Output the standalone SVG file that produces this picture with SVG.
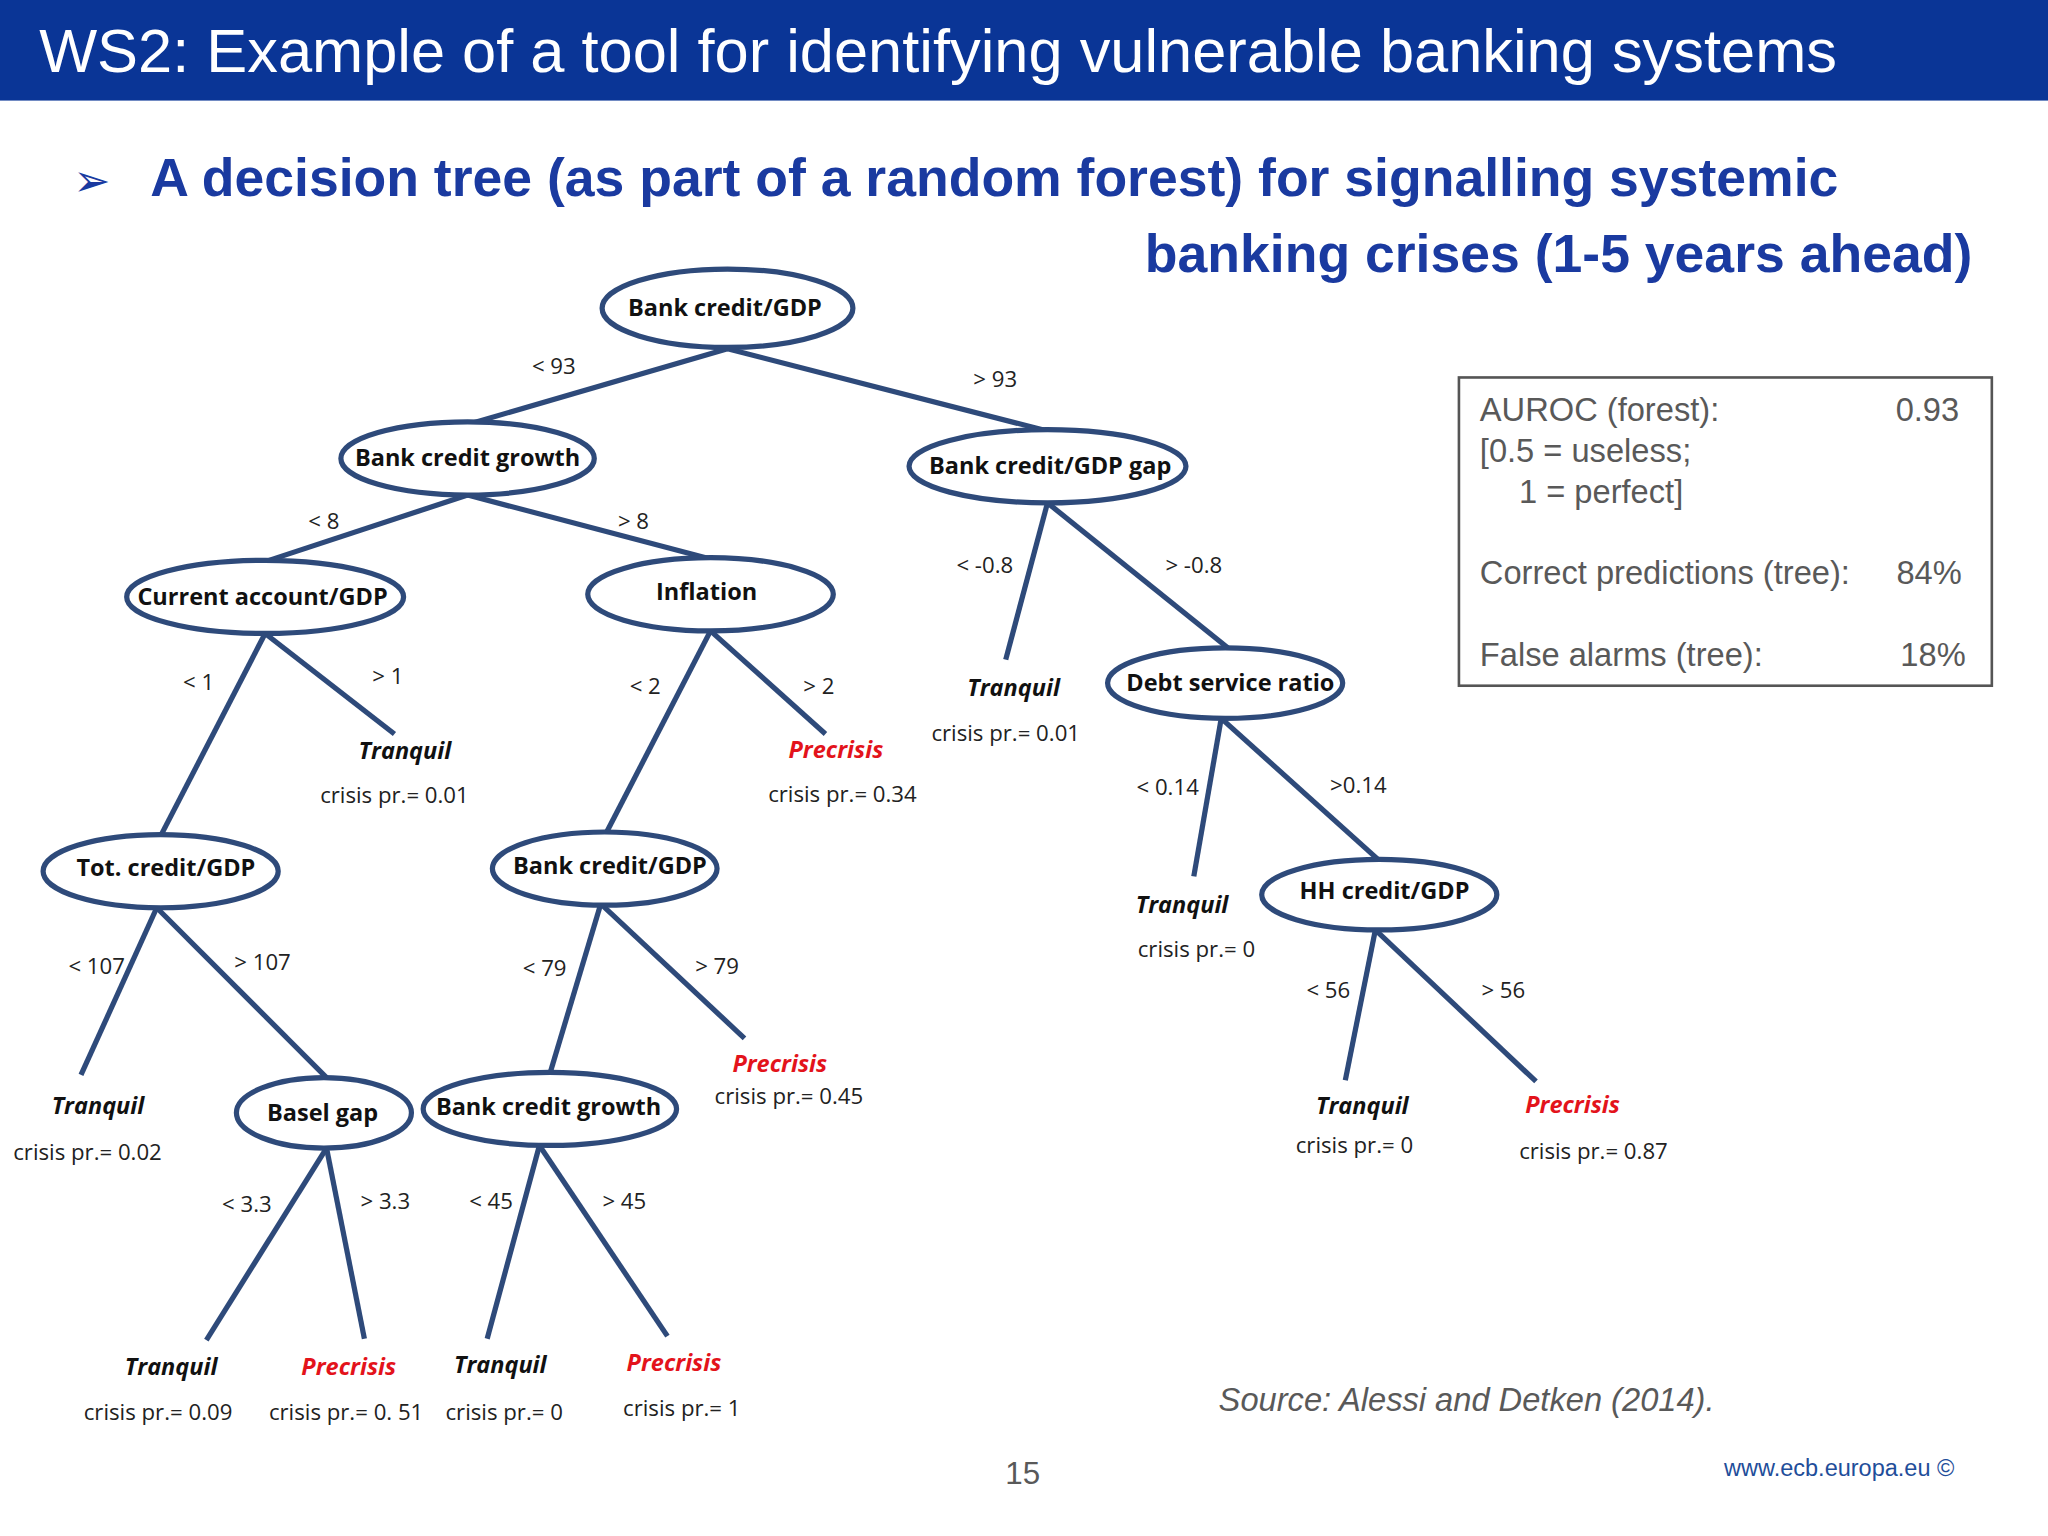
<svg xmlns="http://www.w3.org/2000/svg" width="2048" height="1536" viewBox="0 0 2048 1536">
<style>
.n{fill:#fff;stroke:#2e4a7a;stroke-width:4}
.e line{stroke:#2e4a7a;stroke-width:4}
.nt{font-family:"Open Sans","Noto Sans",sans-serif;font-weight:bold;font-size:18px;fill:#111;text-anchor:middle}
.l{font-family:"Open Sans","Noto Sans",sans-serif;font-size:17px;fill:#222;text-anchor:middle}
.tq{font-family:"Open Sans","Noto Sans",sans-serif;font-weight:bold;font-style:italic;font-size:18px;fill:#111;text-anchor:middle}
.pc{font-family:"Open Sans","Noto Sans",sans-serif;font-weight:bold;font-style:italic;font-size:18px;fill:#e3131b;text-anchor:middle}
.b{font-family:"Liberation Sans",Arial,sans-serif;font-size:25px;fill:#595959}
</style>
<rect width="2048" height="1536" fill="#fff"/>
<g transform="scale(1.30612)">
<rect x="0" y="0" width="1568" height="77" fill="#0a3596"/>
<text x="30" y="55" font-family="Liberation Sans,Arial,sans-serif" font-size="47" fill="#fff">WS2: Example of a tool for identifying vulnerable banking systems</text>
<text x="56" y="150" font-family="DejaVu Sans,sans-serif" font-size="34" fill="#1a3aa0">➢</text>
<g font-family="Liberation Sans,Arial,sans-serif" font-weight="bold" font-size="41" fill="#1a3aa0">
<text x="115" y="150">A decision tree (as part of a random forest) for signalling systemic</text>
<text x="1510" y="208" text-anchor="end">banking crises (1-5 years ahead)</text>
</g>
<g id="connectors" class="e">
<line x1="557" y1="267" x2="358" y2="325"/><line x1="557" y1="267" x2="802" y2="330"/>
<line x1="358" y1="379" x2="203" y2="430"/><line x1="358" y1="379" x2="544" y2="428"/>
<line x1="802" y1="385" x2="770" y2="505"/><line x1="802" y1="385" x2="940" y2="496"/>
<line x1="203" y1="485" x2="123" y2="640"/><line x1="203" y1="485" x2="302" y2="562"/>
<line x1="544" y1="483" x2="464" y2="638"/><line x1="544" y1="483" x2="632" y2="562"/>
<line x1="935" y1="550" x2="914" y2="671"/><line x1="935" y1="550" x2="1055" y2="658"/>
<line x1="120" y1="695" x2="62" y2="823"/><line x1="120" y1="695" x2="250" y2="825"/>
<line x1="460" y1="692" x2="421" y2="822"/><line x1="460" y1="692" x2="570" y2="795"/>
<line x1="1053" y1="712" x2="1030" y2="827"/><line x1="1053" y1="712" x2="1176" y2="828"/>
<line x1="250" y1="879" x2="158" y2="1026"/><line x1="250" y1="879" x2="279" y2="1025"/>
<line x1="413" y1="877" x2="373" y2="1025"/><line x1="413" y1="877" x2="511" y2="1023"/>
</g>
<g id="n1"><ellipse class="n" cx="557" cy="236" rx="96" ry="30"/><text class="nt" x="555" y="242">Bank credit/GDP</text></g>
<g id="n2"><ellipse class="n" cx="358" cy="351" rx="97" ry="28"/><text class="nt" x="358" y="357">Bank credit growth</text></g>
<g id="n3"><ellipse class="n" cx="802" cy="357" rx="106" ry="28"/><text class="nt" x="804" y="363">Bank credit/GDP gap</text></g>
<g id="n4"><ellipse class="n" cx="203" cy="457" rx="106" ry="28"/><text class="nt" x="201" y="463">Current account/GDP</text></g>
<g id="n5"><ellipse class="n" cx="544" cy="455" rx="94" ry="28"/><text class="nt" x="541" y="459">Inflation</text></g>
<g id="n6"><ellipse class="n" cx="938" cy="523" rx="90" ry="27"/><text class="nt" x="942" y="529">Debt service ratio</text></g>
<g id="n7"><ellipse class="n" cx="123" cy="667" rx="90" ry="28"/><text class="nt" x="127" y="671">Tot. credit/GDP</text></g>
<g id="n8"><ellipse class="n" cx="463" cy="665" rx="86" ry="28"/><text class="nt" x="467" y="669">Bank credit/GDP</text></g>
<g id="n9"><ellipse class="n" cx="1056" cy="685" rx="90" ry="27"/><text class="nt" x="1060" y="688">HH credit/GDP</text></g>
<g id="n10"><ellipse class="n" cx="248" cy="852" rx="67" ry="27"/><text class="nt" x="247" y="858">Basel gap</text></g>
<g id="n11"><ellipse class="n" cx="421" cy="849" rx="97" ry="28"/><text class="nt" x="420" y="854">Bank credit growth</text></g>
<g id="edge-labels">
<text class="l" x="424" y="286">&lt; 93</text><text class="l" x="762" y="296">&gt; 93</text>
<text class="l" x="248" y="405">&lt; 8</text><text class="l" x="485" y="405">&gt; 8</text>
<text class="l" x="754" y="439">&lt; -0.8</text><text class="l" x="914" y="439">&gt; -0.8</text>
<text class="l" x="152" y="528">&lt; 1</text><text class="l" x="297" y="524">&gt; 1</text>
<text class="l" x="494" y="531">&lt; 2</text><text class="l" x="627" y="531">&gt; 2</text>
<text class="l" x="894" y="609">&lt; 0.14</text><text class="l" x="1040" y="607">&gt;0.14</text>
<text class="l" x="74" y="746">&lt; 107</text><text class="l" x="201" y="743">&gt; 107</text>
<text class="l" x="417" y="747">&lt; 79</text><text class="l" x="549" y="746">&gt; 79</text>
<text class="l" x="1017" y="764">&lt; 56</text><text class="l" x="1151" y="764">&gt; 56</text>
<text class="l" x="189" y="928">&lt; 3.3</text><text class="l" x="295" y="926">&gt; 3.3</text>
<text class="l" x="376" y="926">&lt; 45</text><text class="l" x="478" y="926">&gt; 45</text>
</g>
<g id="leaf1"><text class="tq" x="310" y="581">Tranquil</text><text class="l" x="302" y="615">crisis pr.= 0.01</text></g>
<g id="leaf2"><text class="pc" x="640" y="580">Precrisis</text><text class="l" x="645" y="614">crisis pr.= 0.34</text></g>
<g id="leaf3"><text class="tq" x="776" y="533">Tranquil</text><text class="l" x="770" y="567">crisis pr.= 0.01</text></g>
<g id="leaf4"><text class="tq" x="905" y="699">Tranquil</text><text class="l" x="916" y="733">crisis pr.= 0</text></g>
<g id="leaf5"><text class="pc" x="597" y="821">Precrisis</text><text class="l" x="604" y="845">crisis pr.= 0.45</text></g>
<g id="leaf6"><text class="tq" x="75" y="853">Tranquil</text><text class="l" x="67" y="888">crisis pr.= 0.02</text></g>
<g id="leaf7"><text class="tq" x="1043" y="853">Tranquil</text><text class="l" x="1037" y="883">crisis pr.= 0</text></g>
<g id="leaf8"><text class="pc" x="1204" y="852">Precrisis</text><text class="l" x="1220" y="887">crisis pr.= 0.87</text></g>
<g id="leaf9"><text class="tq" x="131" y="1053">Tranquil</text><text class="l" x="121" y="1087">crisis pr.= 0.09</text></g>
<g id="leaf10"><text class="pc" x="267" y="1053">Precrisis</text><text class="l" x="265" y="1087">crisis pr.= 0. 51</text></g>
<g id="leaf11"><text class="tq" x="383" y="1051">Tranquil</text><text class="l" x="386" y="1087">crisis pr.= 0</text></g>
<g id="leaf12"><text class="pc" x="516" y="1050">Precrisis</text><text class="l" x="522" y="1084">crisis pr.= 1</text></g>
<g id="stats">
<rect x="1117" y="289" width="408" height="236" fill="#fff" stroke="#555" stroke-width="2"/>
<text class="b" x="1133" y="322">AUROC (forest):</text><text class="b" x="1500" y="322" text-anchor="end">0.93</text>
<text class="b" x="1133" y="354">[0.5 = useless;</text>
<text class="b" x="1163" y="385">1 = perfect]</text>
<text class="b" x="1133" y="447">Correct predictions (tree):</text><text class="b" x="1502" y="447" text-anchor="end">84%</text>
<text class="b" x="1133" y="510">False alarms (tree):</text><text class="b" x="1505" y="510" text-anchor="end">18%</text>
</g>
<text x="933" y="1080" font-family="Liberation Sans,Arial,sans-serif" font-style="italic" font-size="25" fill="#595959">Source: Alessi and Detken (2014).</text>
<text x="783" y="1136" text-anchor="middle" font-family="Liberation Sans,Arial,sans-serif" font-size="24" fill="#595959">15</text>
<text x="1320" y="1130" font-family="Liberation Sans,Arial,sans-serif" font-size="18" fill="#1f4e9a">www.ecb.europa.eu ©</text>
</g>
</svg>
